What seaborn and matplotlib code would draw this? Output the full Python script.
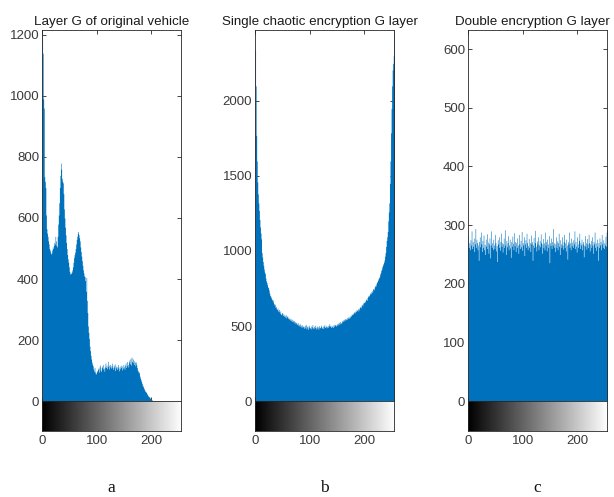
import numpy as np
import pandas as pd
import matplotlib
matplotlib.use("Agg")
import matplotlib.pyplot as plt
import seaborn as sns

# grey levels 0..255 and histogram counts
levels = np.arange(256)

counts_orig = [
    1215, 1140, 990, 960, 735, 720, 700, 610, 565, 550,
    540, 525, 515, 500, 495, 488, 482, 485, 495, 505,
    500, 510, 520, 515, 540, 525, 510, 505, 540, 580,
    610, 650, 700, 740, 780, 760, 730, 720, 715, 680,
    630, 600, 570, 545, 520, 500, 480, 466, 455, 440,
    425, 416, 420, 418, 423, 430, 440, 455, 470, 480,
    488, 500, 515, 530, 540, 550, 556, 545, 535, 525,
    505, 490, 475, 460, 445, 430, 420, 410, 408, 395,
    360, 405, 330, 290, 246, 225, 205, 180, 165, 150,
    138, 128, 120, 115, 105, 98, 110, 95, 88, 92,
    100, 96, 104, 108, 95, 112, 118, 102, 97, 110,
    115, 105, 120, 108, 98, 112, 125, 110, 118, 106,
    113, 130, 118, 105, 120, 112, 108, 116, 124, 110,
    104, 118, 112, 122, 100, 109, 115, 104, 112, 120,
    108, 99, 114, 106, 118, 110, 102, 115, 108, 120,
    112, 104, 118, 125, 110, 116, 130, 120, 112, 128,
    135, 122, 140, 118, 144, 130, 126, 138, 120, 132,
    128, 115, 128, 120, 110, 102, 98, 92, 95, 82,
    75, 70, 64, 58, 52, 49, 44, 40, 36, 32,
    30, 29, 25, 21, 18, 16, 14, 13, 10, 7,
    5, 4, 3, 2, 1, 1,
    0, 0, 0, 0, 0, 0, 0, 0, 0, 0,
    0, 0, 0, 0, 0, 0, 0, 0, 0, 0,
    0, 0, 0, 0, 0, 0, 0, 0, 0, 0,
    0, 0, 0, 0, 0, 0, 0, 0, 0, 0,
    0, 0, 0, 0, 0, 0, 0, 0, 0, 0,
]

counts_single = [
    2340, 2100, 1770, 1600, 1460, 1380, 1320, 1270, 1210, 1160,
    1120, 1080, 990, 960, 930, 905, 880, 860, 850, 820,
    800, 790, 775, 760, 755, 740, 720, 705, 700, 690,
    680, 675, 660, 673, 650, 640, 645, 625, 630, 615,
    610, 620, 600, 595, 610, 585, 600, 580, 575, 590,
    585, 570, 580, 565, 572, 560, 575, 555, 562, 568,
    550, 558, 545, 552, 540, 548, 535, 545, 530, 538,
    528, 535, 520, 530, 515, 525, 520, 510, 522, 505,
    512, 500, 515, 498, 505, 490, 508, 495, 500, 485,
    498, 505, 488, 510, 482, 495, 500, 478, 492, 505,
    485, 490, 500, 480, 495, 510, 488, 482, 498, 490,
    505, 480, 492, 500, 486, 495, 478, 502, 490, 488,
    496, 505, 485, 492, 500, 483, 498, 510, 490, 495,
    502, 488, 496, 505, 492, 500, 515, 498, 505, 490,
    500, 495, 505, 490, 510, 498, 505, 512, 500, 507,
    515, 505, 520, 510, 525, 515, 530, 522, 518, 535,
    528, 540, 532, 545, 538, 550, 542, 548, 556, 545,
    560, 552, 553, 565, 558, 572, 566, 580, 575, 585,
    578, 590, 595, 588, 600, 598, 610, 605, 600, 615,
    620, 607, 625, 630, 622, 640, 645, 635, 652, 660,
    655, 668, 660, 675, 680, 672, 690, 698, 705, 700,
    712, 720, 715, 728, 735, 725, 745, 750, 742, 760,
    770, 765, 780, 790, 798, 805, 815, 822, 829, 845,
    855, 870, 880, 895, 905, 915, 925, 940, 965, 990,
    1030, 1070, 1095, 1130, 1200, 1260, 1320, 1450, 1600, 1787,
    1950, 2100, 2207, 2250, 2300, 2470,
]

counts_double = [
    282, 262, 270, 258, 275, 266, 290, 260, 272, 264, 278, 255, 268, 294, 262, 276,
    270, 258, 266, 240, 272, 280, 263, 288, 268, 255, 274, 262, 283, 258, 267, 250,
    276, 264, 285, 260, 271, 252, 268, 278, 244, 266, 290, 262, 270, 258, 276, 266,
    260, 284, 270, 256, 265, 238, 275, 268, 280, 262, 257, 272, 286, 264, 270, 254,
    268, 278, 262, 292, 266, 250, 274, 263, 270, 282, 258, 266, 276, 261, 245, 272,
    264, 281, 269, 258, 287, 265, 272, 255, 270, 262, 278, 266, 252, 284, 268, 260,
    274, 263, 289, 257, 270, 266, 280, 248, 268, 275, 262, 286, 270, 258, 265, 277,
    262, 270, 255, 283, 268, 272, 240, 266, 279, 262, 270, 291, 264, 256, 273, 268,
    280, 258, 266, 274, 263, 285, 270, 252, 268, 277, 262, 270, 258, 288, 266, 272,
    256, 276, 268, 262, 282, 236, 270, 265, 278, 260, 272, 266, 294, 262, 270, 255,
    268, 280, 262, 273, 258, 270, 286, 264, 250, 275, 268, 262, 280, 266, 259, 272,
    284, 262, 270, 256, 276, 266, 242, 272, 268, 288, 262, 270, 258, 278, 265, 271,
    262, 275, 268, 290, 260, 272, 264, 254, 280, 268, 262, 274, 286, 260, 270, 266,
    276, 258, 268, 272, 246, 266, 282, 264, 270, 259, 277, 268, 262, 284, 270, 256,
    268, 274, 262, 280, 266, 252, 272, 268, 288, 262, 270, 257, 276, 264, 240, 270,
    262, 278, 266, 272, 258, 284, 268, 262, 275, 260, 270, 266, 281, 264, 288, 292,
]

titles = ["Layer G of original vehicle",
          "Single chaotic encryption G layer",
          "Double encryption G layer"]
letters = ["a", "b", "c"]
ymax = [1215, 2470, 632]
ystep = [200, 500, 100]
xticks = [0, 100, 200]

sns.set_style("white")
plt.rcParams["font.family"] = ["Liberation Sans", "DejaVu Sans"]

blue = "#0072BD"
dark = "#262626"
labelgrey = "#3a3a3a"

fig = plt.figure(figsize=(6.14, 4.97), dpi=100)
lefts = [0.0684, 0.4153, 0.7622]
width = 0.227
title_x = [0.5, 0.465, 0.46]

for i, counts in enumerate([counts_orig, counts_single, counts_double]):
    df = pd.DataFrame({"level": levels, "count": counts})
    ax = fig.add_axes([lefts[i], 0.193, width, 0.746])
    sns.histplot(data=df, x="level", weights="count", discrete=True,
                 element="step", fill=True, color=blue, alpha=1,
                 linewidth=0, ax=ax)
    ax.set_xlim(-0.5, 255.5)
    ax.set_ylim(0, ymax[i])
    ax.set_yticks(np.arange(0, ymax[i], ystep[i]))
    ax.set_xticks(xticks)
    ax.set_xticklabels([])
    ax.set_xlabel("")
    ax.set_ylabel("")
    ax.tick_params(direction="in", length=3, width=0.6, top=True, right=True,
                   bottom=True, left=True, labelsize=9.5, color=dark,
                   labelcolor=labelgrey, pad=2)
    for sp in ax.spines.values():
        sp.set_color(dark)
        sp.set_linewidth(0.6)
    ax.set_title(titles[i], fontsize=9.6, color="#1a1a1a", pad=4, x=title_x[i])

    # grey-level colour bar under the histogram
    cax = fig.add_axes([lefts[i], 0.133, width, 0.06])
    cax.imshow(levels.reshape(1, -1), cmap="gray", aspect="auto",
               extent=[-0.5, 255.5, 0, 1], vmin=0, vmax=255)
    cax.set_yticks([])
    cax.set_xticks(xticks)
    cax.tick_params(direction="in", length=0, labelsize=9.5, color=dark,
                    labelcolor=labelgrey, pad=3)
    for sp in cax.spines.values():
        sp.set_color(dark)
        sp.set_linewidth(0.6)

    fig.text(lefts[i] + width / 2, 0.018, letters[i], ha="center", va="center",
             fontsize=12.5, family=["Liberation Serif", "DejaVu Serif"], color="#111111")

fig.savefig("out.png", dpi=100)
